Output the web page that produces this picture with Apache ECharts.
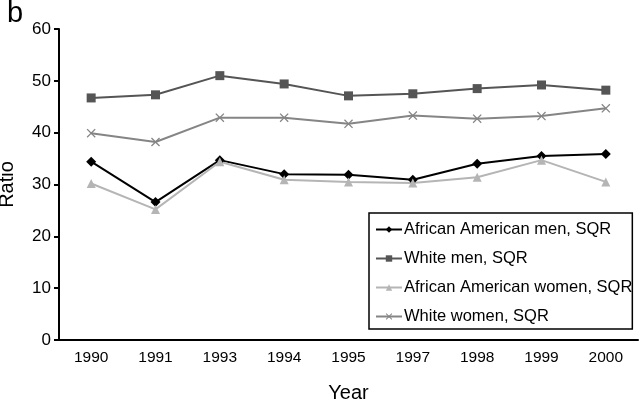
<!DOCTYPE html>
<html>
<head>
<meta charset="utf-8">
<script src="https://cdn.jsdelivr.net/npm/echarts@6/dist/echarts.min.js"></script>
<style>
  html, body { margin: 0; padding: 0; background: #fff; }
  #chart { width: 640px; height: 400px; }
</style>
</head>
<body>
<div id="chart"></div>
<script>
var years = ['1990', '1991', '1993', '1994', '1995', '1997', '1998', '1999', '2000'];
var aaMen = [34.4, 26.6, 34.7, 32.0, 31.9, 30.9, 34.0, 35.5, 35.9];
var whiteMen = [46.7, 47.3, 51.0, 49.4, 47.1, 47.5, 48.5, 49.2, 48.2];
var aaWomen = [30.2, 25.2, 34.4, 30.9, 30.5, 30.3, 31.4, 34.7, 30.5];
var whiteWomen = [39.9, 38.2, 42.9, 42.9, 41.7, 43.3, 42.7, 43.2, 44.7];

var font = 'Liberation Sans, Arial, sans-serif';
// x-shaped marker (filled polygon)
var crossPath = 'path://M0,1L1,0L5,4L9,0L10,1L6,5L10,9L9,10L5,6L1,10L0,9L4,5Z';

function line(name, data, color, symbol, size) {
  return {
    name: name,
    type: 'line',
    data: data,
    symbol: symbol,
    symbolSize: size,
    lineStyle: { color: color, width: 2 },
    itemStyle: { color: color },
    emphasis: { disabled: true },
    animation: false
  };
}

var chart = echarts.init(document.getElementById('chart'));
chart.setOption({
  animation: false,
  title: {
    text: 'b',
    left: 2,
    top: -6,
    textStyle: { fontFamily: font, fontSize: 29, fontWeight: 'normal', color: '#000' }
  },
  grid: { left: 59, right: 2, top: 29, bottom: 60, outerBoundsMode: 'none', containLabel: false },
  legend: {
    orient: 'vertical',
    left: 369,
    top: 213,
    padding: [8, 0, 4, 6],
    itemGap: 12,
    itemWidth: 26,
    itemHeight: 8,
    borderColor: '#000',
    borderWidth: 1.5,
    backgroundColor: '#fff',
    textStyle: { fontFamily: font, fontSize: 16.5, color: '#000', padding: [0, 0, 0, -3] },
    data: ['African American men, SQR', 'White men, SQR', 'African American women, SQR', 'White women, SQR']
  },
  xAxis: {
    type: 'category',
    data: years,
    boundaryGap: true,
    name: 'Year',
    nameLocation: 'middle',
    nameGap: 43,
    nameMoveOverlap: false,
    nameTextStyle: { fontFamily: font, fontSize: 20, color: '#000' },
    axisLine: { lineStyle: { color: '#000', width: 2 } },
    axisTick: { length: 6, lineStyle: { color: '#000', width: 2 } },
    axisLabel: { fontFamily: font, fontSize: 15.5, color: '#000', margin: 10 }
  },
  yAxis: {
    type: 'value',
    min: 0,
    max: 60,
    interval: 10,
    name: 'Ratio',
    nameLocation: 'middle',
    nameGap: 42,
    nameMoveOverlap: false,
    nameTextStyle: { fontFamily: font, fontSize: 20, color: '#000' },
    splitLine: { show: false },
    axisLine: { show: true, lineStyle: { color: '#000', width: 2 } },
    axisTick: { show: true, length: 5, lineStyle: { color: '#000', width: 2 } },
    axisLabel: { fontFamily: font, fontSize: 17, color: '#000', margin: 8 }
  },
  series: [
    line('African American men, SQR', aaMen, '#000000', 'diamond', 10),
    line('White men, SQR', whiteMen, '#555555', 'rect', 9),
    line('African American women, SQR', aaWomen, '#b5b5b5', 'triangle', 9),
    line('White women, SQR', whiteWomen, '#858585', crossPath, 9)
  ]
});
</script>
</body>
</html>
